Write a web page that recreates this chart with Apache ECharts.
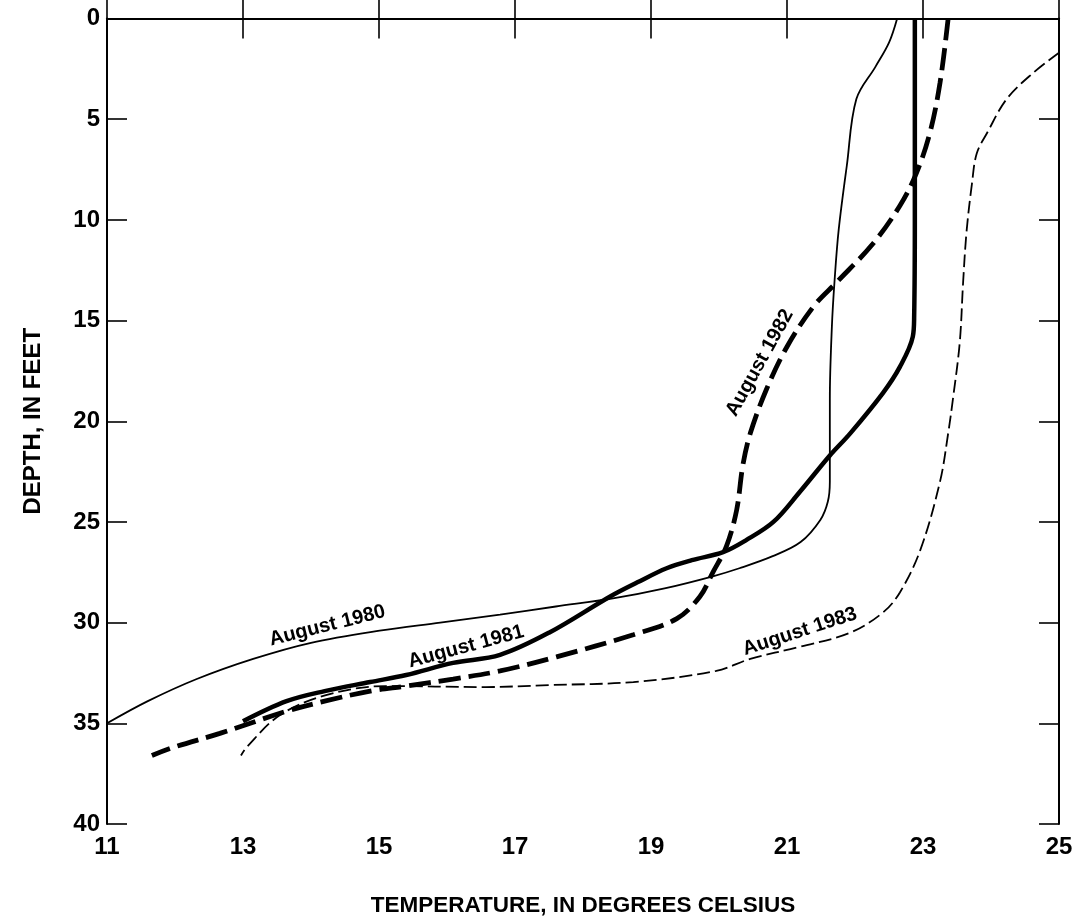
<!DOCTYPE html>
<html>
<head>
<meta charset="utf-8">
<script src="https://cdn.jsdelivr.net/npm/echarts@6/dist/echarts.min.js"></script>
<style>
html,body{margin:0;padding:0;background:#fff;}
#chart{width:1077px;height:922px;}
</style>
</head>
<body>
<div id="chart"></div>
<script>
// ---- data (temperature °C, depth ft) ----
var xTicks = [11, 13, 15, 17, 19, 21, 23, 25];
var yTicks = [0, 5, 10, 15, 20, 25, 30, 35, 40];

var t1980 = [22.62, 22.5, 22.3, 22.02, 21.88, 21.76, 21.7, 21.66, 21.63, 21.63, 21.6, 21.49, 21.2, 20.79, 20.3, 19.91, 19.2, 18.44, 17.6, 16.78, 15.9, 15.01, 14.0, 13.15, 12.32, 11.6, 11.0];
var d1980 = [0, 1.2, 2.4, 4.0, 7.3, 10.5, 13.0, 15.3, 18.9, 23.0, 24.0, 24.9, 26.0, 26.7, 27.3, 27.7, 28.3, 28.8, 29.2, 29.6, 30.0, 30.4, 31.0, 31.8, 32.8, 33.9, 35.0];

var t1981 = [22.88, 22.88, 22.87, 22.85, 22.66, 22.41, 21.93, 21.63, 21.19, 20.8, 20.4, 20.06, 19.6, 19.23, 18.8, 18.4, 17.5, 16.78, 16.09, 15.4, 14.87, 14.2, 13.64, 13.0];
var d1981 = [0, 10, 14.8, 15.8, 17.3, 18.6, 20.6, 21.7, 23.5, 25.0, 25.9, 26.5, 26.9, 27.3, 28.0, 28.7, 30.5, 31.6, 32.0, 32.6, 32.95, 33.4, 33.9, 34.9];

var t1982 = [23.37, 23.25, 23.1, 22.9, 22.66, 22.26, 21.73, 21.39, 21.0, 20.7, 20.46, 20.35, 20.26, 20.11, 19.91, 19.72, 19.38, 18.74, 17.61, 16.78, 16.09, 15.4, 14.87, 14.2, 13.64, 12.66, 11.97, 11.66];
var d1982 = [0, 3.2, 5.7, 7.7, 9.3, 11.2, 13.1, 14.3, 16.3, 18.4, 20.6, 22.2, 24.4, 26.2, 27.5, 28.7, 29.8, 30.6, 31.7, 32.4, 32.8, 33.15, 33.4, 33.9, 34.4, 35.5, 36.2, 36.6];

var t1983 = [25.0, 24.62, 24.23, 23.94, 23.79, 23.72, 23.64, 23.59, 23.54, 23.44, 23.37, 23.25, 22.96, 22.66, 22.41, 21.93, 21.19, 20.46, 19.96, 18.74, 17.5, 16.57, 15.1, 14.22, 13.54, 13.05, 12.97];
var d1983 = [1.7, 2.7, 4.0, 5.7, 6.7, 8.2, 10.6, 13.1, 16.1, 18.9, 20.6, 23.0, 26.4, 28.5, 29.5, 30.5, 31.2, 31.8, 32.4, 32.95, 33.1, 33.2, 33.15, 33.6, 34.6, 36.2, 36.6];

var labelText = ['August 1980', 'August 1981', 'August 1982', 'August 1983'];
var labelT = [14.24, 16.28, 20.6, 21.19];
var labelD = [30.15, 31.2, 17.1, 30.45];
var labelAngle = [14, 15, 61, 18];

// ---- build ----
function pairs(t, d) { return t.map(function (v, i) { return [v, d[i]]; }); }
var FONT = '"Liberation Sans", Arial, Helvetica, sans-serif';

function labelPoint(i) {
  return {
    symbol: 'circle', symbolSize: 1,
    itemStyle: { color: 'rgba(0,0,0,0)' },
    label: {
      show: true, position: 'inside', rotate: labelAngle[i],
      color: '#000', fontSize: 20, fontWeight: 'bold', fontFamily: FONT,
      formatter: labelText[i]
    },
    data: [{ coord: [labelT[i], labelD[i]] }]
  };
}

var styles = [
  { width: 1.8, type: 'solid' },
  { width: 4.5, type: 'solid' },
  { width: 4.8, type: [22, 8] },
  { width: 1.8, type: [13, 5] }
];
var sets = [[t1980, d1980], [t1981, d1981], [t1982, d1982], [t1983, d1983]];

var series = sets.map(function (s, i) {
  return {
    type: 'line', name: labelText[i],
    data: pairs(s[0], s[1]),
    smooth: 0.35, symbol: 'none', silent: true,
    lineStyle: { color: '#000', width: styles[i].width, type: styles[i].type, cap: 'butt' },
    markPoint: labelPoint(i),
    z: 3
  };
});

var axisLineStyle = { lineStyle: { color: '#000', width: 2 } };
var tickStyle = { inside: true, length: 20, lineStyle: { color: '#000', width: 1.6 } };
var tickLabel = { color: '#000', fontSize: 24, fontWeight: 'bold', fontFamily: FONT };

var option = {
  backgroundColor: '#fff',
  animation: false,
  grid: { left: 107, top: 18.5, right: 18, bottom: 97 },
  xAxis: [
    {
      type: 'value', position: 'bottom', min: xTicks[0], max: xTicks[xTicks.length - 1], interval: 2,
      axisLine: axisLineStyle, axisTick: tickStyle, splitLine: { show: false },
      axisLabel: Object.assign({ margin: 11 }, tickLabel),
      name: 'TEMPERATURE, IN DEGREES CELSIUS', nameLocation: 'middle', nameGap: 70,
      nameTextStyle: { color: '#000', fontSize: 22.5, fontWeight: 'bold', fontFamily: FONT }
    },
    {
      type: 'value', position: 'top', min: xTicks[0], max: xTicks[xTicks.length - 1], interval: 2,
      axisLine: axisLineStyle, axisTick: tickStyle, splitLine: { show: false },
      axisLabel: { show: false }
    }
  ],
  yAxis: [
    {
      type: 'value', position: 'left', inverse: true, min: yTicks[0], max: yTicks[yTicks.length - 1], interval: 5,
      axisLine: axisLineStyle, axisTick: tickStyle, splitLine: { show: false },
      axisLabel: Object.assign({ margin: 7 }, tickLabel),
      name: 'DEPTH, IN FEET', nameLocation: 'middle', nameGap: 62,
      nameTextStyle: { color: '#000', fontSize: 24, fontWeight: 'bold', fontFamily: FONT }
    },
    {
      type: 'value', position: 'right', inverse: true, min: yTicks[0], max: yTicks[yTicks.length - 1], interval: 5,
      axisLine: axisLineStyle, axisTick: tickStyle, splitLine: { show: false },
      axisLabel: { show: false }
    }
  ],
  series: series
};

var chart = echarts.init(document.getElementById('chart'), null, { renderer: 'canvas' });
chart.setOption(option);
</script>
</body>
</html>
